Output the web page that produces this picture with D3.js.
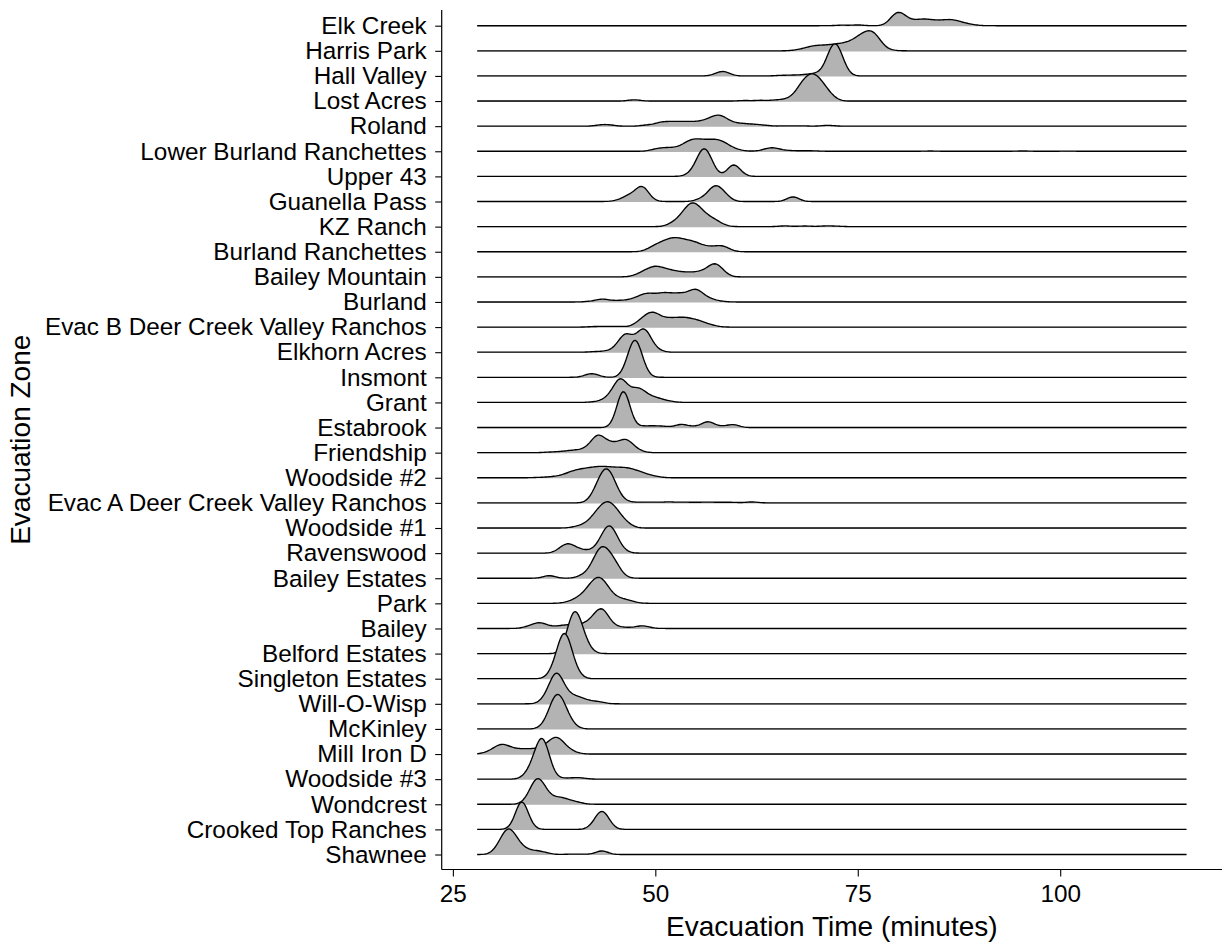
<!DOCTYPE html>
<html>
<head>
<meta charset="utf-8">
<script src="https://cdn.jsdelivr.net/npm/d3@7"></script>
<style>
    body { margin: 0; background: #fff; }
    text { font-family: "Liberation Sans", Arial, sans-serif; }
</style>
</head>
<body>
<div id="chart"></div>
<script>
// Zones, top to bottom
const zones = [
    'Elk Creek', 'Harris Park', 'Hall Valley', 'Lost Acres', 'Roland',
    'Lower Burland Ranchettes', 'Upper 43', 'Guanella Pass', 'KZ Ranch',
    'Burland Ranchettes', 'Bailey Mountain', 'Burland',
    'Evac B Deer Creek Valley Ranchos', 'Elkhorn Acres', 'Insmont', 'Grant',
    'Estabrook', 'Friendship', 'Woodside #2', 'Evac A Deer Creek Valley Ranchos',
    'Woodside #1', 'Ravenswood', 'Bailey Estates', 'Park', 'Bailey',
    'Belford Estates', 'Singleton Estates', 'Will-O-Wisp', 'McKinley',
    'Mill Iron D', 'Woodside #3', 'Wondcrest', 'Crooked Top Ranches', 'Shawnee'
];

// Evacuation times (minutes) as [time, count] per zone
const elkCreek = [[73, 0.5], [75, 0.7], [79.4, 5], [80.1, 7.5], [80.9, 4], [81.8, 2], [82.6, 3], [83.4, 3], [84.2, 2.5], [85, 2.2], [85.8, 2.5], [86.6, 3], [87.4, 2.2], [88.3, 1.2], [89.2, 0.6]];
const harrisPark = [[67.8, 1], [69, 2.5], [70, 3], [71, 3], [72, 3.5], [73, 4], [74, 5], [75, 7], [75.8, 8], [76.6, 9.5], [77.3, 7], [78, 2], [79, 0.5]];
const hallValley = [[57.8, 2], [58.6, 3], [65.5, 0.5], [67, 0.7], [68.5, 1], [69.8, 2], [71.4, 10], [72.2, 21], [73, 9]];
const lostAcres = [[47.4, 1.2], [61, 0.5], [63, 0.7], [65, 1], [66.5, 2], [67.8, 8], [68.6, 10.5], [69.4, 13.5], [70.2, 10.5], [71, 6.5], [71.8, 2.5]];
const roland = [[43.3, 1], [44.3, 1], [49, 1], [50.5, 2.5], [51.5, 2.5], [52.5, 2.5], [53.5, 2.5], [54.5, 2.5], [55.5, 2.5], [56.5, 4], [57.5, 6], [58.3, 5], [59.2, 2.5], [60.2, 1.5], [61.2, 1.5], [62.4, 1.2], [63.5, 0.6], [66, 0.3], [68, 0.3], [71.3, 0.8]];
const lowerBurland = [[49.8, 1], [50.6, 1.6], [51.4, 1.6], [52.2, 1.6], [53, 1.8], [53.8, 4], [54.6, 6], [55.4, 5], [56.2, 5], [57, 5], [57.8, 5.5], [58.6, 4], [59.5, 2], [60.5, 0.6], [63.5, 1], [64.4, 2.5], [65.3, 1], [66.5, 0.5], [68, 0.4], [69.5, 0.4], [84, 0.25], [95.4, 0.3], [101, 0.2]];
const upper43 = [[54.3, 1.5], [55.3, 9], [56.1, 18], [56.9, 7], [59.6, 10], [60.4, 2]];
const guanellaPass = [[45.5, 1], [46.6, 4], [47.6, 4], [48.4, 11], [49.1, 2], [55.6, 2], [56.8, 6], [57.6, 10], [58.6, 5], [67, 4.5]];
const kzRanch = [[52, 2], [53, 5], [53.9, 9.5], [54.7, 13], [55.6, 9], [56.5, 5], [57.4, 4], [58.3, 1], [66, 0.7], [68.5, 0.6], [71, 0.6], [72.3, 0.4]];
const burlandRanchettes = [[49.3, 2], [50.2, 4], [51.1, 5.5], [52, 7], [52.9, 7], [53.8, 5.5], [54.7, 5.5], [55.6, 3.5], [56.5, 2.5], [57.4, 2.5], [58.3, 3.8], [59.1, 1]];
const baileyMountain = [[47.8, 1.5], [48.8, 4], [49.8, 6], [50.7, 5], [51.7, 4], [52.7, 3], [53.7, 2.5], [54.7, 2.5], [55.7, 3], [56.7, 5], [57.5, 8], [58.3, 3]];
const burland = [[42, 0.5], [43.4, 2.5], [44.8, 1], [46, 1], [47.2, 2], [48.2, 3], [49, 5], [50, 4], [51, 5.5], [52, 4.5], [53, 5], [54, 4.5], [55, 9], [56, 3.5], [57, 1.5], [58, 0.5]];
const evacB = [[42.5, 0.5], [44, 0.6], [45.5, 0.6], [47.9, 3], [48.8, 6], [49.7, 9], [50.6, 5], [51.6, 5], [52.6, 5], [53.6, 5.5], [54.6, 4.5], [55.6, 3.5], [56.6, 1.5], [57.4, 0.5]];
const elkhornAcres = [[42.5, 0.5], [44, 1], [45.4, 4], [46.3, 13], [47.2, 5], [48, 7], [48.7, 15], [49.5, 4], [50.4, 1]];
const insmont = [[41.8, 2], [42.5, 2], [46.7, 9], [47.5, 27], [48.3, 8]];
const grant = [[42.5, 0.5], [43.8, 2], [44.8, 6], [45.7, 17.5], [46.6, 5], [47.4, 6], [48.2, 8], [49.1, 3], [50, 3], [51, 1.5], [52, 0.5]];
const estabrook = [[45.6, 8], [46.1, 25], [46.6, 5], [48.5, 1.2], [49.8, 1.2], [51, 1], [53.2, 3], [54.8, 1], [56.5, 5.5], [58, 1], [59.6, 2.8]];
const friendship = [[37, 0.5], [38.5, 1], [39.8, 1.7], [40.9, 1.5], [41.8, 3], [42.8, 12.5], [43.7, 6], [44.6, 5], [45.5, 4.5], [46.4, 9], [47.3, 3], [48.2, 0.8]];
const woodside2 = [[35.5, 0.3], [37, 0.7], [38.3, 1.5], [39.4, 3], [40.3, 4], [41.2, 4.5], [42.1, 5], [43, 5.5], [43.9, 5.5], [44.8, 5], [45.7, 5], [46.6, 5], [47.5, 4], [48.4, 2.5], [49.3, 1.5], [50.3, 0.6]];
const evacA = [[42.4, 4.3], [43.2, 13], [44, 19], [44.8, 11.5], [45.6, 3], [47, 0.6], [48.5, 0.6], [50, 0.6], [51.7, 0.9], [53.5, 0.6], [55, 0.5], [56.5, 0.6], [58, 0.5], [59.5, 0.5], [61.9, 0.9]];
const woodside1 = [[40.2, 1], [41.3, 2.5], [42.4, 7], [43.3, 11], [44.1, 12.5], [44.9, 11], [45.8, 6], [46.7, 2]];
const ravenswood = [[38.4, 3], [39.2, 6], [40.1, 3], [41, 1.5], [41.9, 1.2], [42.9, 3], [43.6, 8], [44.3, 16], [45.1, 9], [46, 1.5]];
const baileyEstates = [[36.9, 2.5], [41, 2], [41.9, 3], [42.7, 12], [43.5, 17], [44.3, 11], [45.1, 9], [46, 1]];
const park = [[39.2, 1], [40.3, 3], [41.3, 6], [42.2, 10.5], [43, 13], [43.8, 10.5], [44.7, 4], [45.6, 2.5], [46.5, 2], [47.4, 0.7]];
const bailey = [[34.3, 1.5], [35.5, 4], [36.3, 2], [37.3, 1], [38.5, 2], [39.5, 2], [40.5, 2], [41.5, 3], [42.5, 7], [43.4, 13.5], [44.2, 4], [45.3, 1], [46.5, 0.8], [48.3, 2.3], [49.2, 0.5]];
const belfordEstates = [[39.4, 13], [40.1, 26], [40.9, 12], [41.7, 3]];
const singletonEstates = [[37.4, 4.5], [38.1, 13], [38.8, 27], [39.5, 12.5], [40.3, 3]];
const willOWisp = [[36.4, 3], [37.2, 10], [37.9, 19], [38.7, 7], [39.6, 4], [40.5, 4], [41.4, 2], [42.4, 1.5], [43.3, 1]];
const mcKinley = [[36.5, 3], [37.3, 13], [38, 18.5], [38.8, 11.5], [39.7, 3]];
const millIronD = [[28.8, 0.5], [29.8, 2], [30.6, 4], [31.3, 5], [32.2, 3], [33.1, 2.5], [34, 2.5], [34.9, 2.5], [35.8, 3], [36.7, 5], [37.6, 10], [38.4, 6.5], [39.3, 2.5], [40.2, 0.8]];
const woodside3 = [[34.3, 4], [35.2, 12], [36, 26], [36.7, 11], [38.5, 0.8], [40, 1], [40.9, 0.8]];
const wondcrest = [[34.3, 3], [35.1, 12.7], [35.8, 12.7], [36.6, 5], [37.5, 3], [38.4, 4], [39.3, 2], [40.2, 1.5], [41, 0.3]];
const crookedTop = [[32.8, 2], [33.5, 24], [34.3, 3], [42.6, 4], [43.4, 13], [44.1, 4]];
const shawnee = [[30.6, 4], [31.4, 11], [32.1, 13], [32.9, 7], [33.8, 3], [34.7, 2], [35.6, 2], [36.5, 1], [39.5, 0.3], [41, 0.3], [43.4, 3.5]];

const series = [
    elkCreek, harrisPark, hallValley, lostAcres, roland, lowerBurland, upper43,
    guanellaPass, kzRanch, burlandRanchettes, baileyMountain, burland, evacB,
    elkhornAcres, insmont, grant, estabrook, friendship, woodside2, evacA,
    woodside1, ravenswood, baileyEstates, park, bailey, belfordEstates,
    singletonEstates, willOWisp, mcKinley, millIronD, woodside3, wondcrest,
    crookedTop, shawnee
];

const timeRange = [28, 115.6];   // min / max evacuation time in the data
const xTicks = [25, 50, 75, 100];
const bandwidth = 0.75;
const ridgeScale = 1.8;

const width = 1225, height = 945;
const panel = { left: 441.7, right: 1222, top: 10, bottom: 869.5 };

const svg = d3.select('#chart')
    .append('svg')
    .attr('width', width)
    .attr('height', height);

// x scale with ggplot style 5% expansion
const pad = (timeRange[1] - timeRange[0]) * 0.05;
const x = d3.scaleLinear()
    .domain([timeRange[0] - pad, timeRange[1] + pad])
    .range([panel.left, panel.right]);

const y = d3.scalePoint()
    .domain(zones)
    .range([25.7, 854.5]);

// Gaussian kernel density on a 512 point grid
const grid = d3.range(512).map(i => timeRange[0] + i * (timeRange[1] - timeRange[0]) / 511);
function density(obs) {
    const k = 1 / (bandwidth * Math.sqrt(2 * Math.PI));
    return grid.map(t => [t, k * d3.sum(obs, ([v, n]) => n * Math.exp(-((t - v) ** 2) / (2 * bandwidth * bandwidth)))]);
}
const densities = series.map(density);
const maxDensity = d3.max(densities, d => d3.max(d, p => p[1]));

const h = d3.scaleLinear()
    .domain([0, maxDensity])
    .range([0, ridgeScale * y.step()]);

// Draw ridges, top to bottom so lower rows overlap
const ridges = svg.append('g');
zones.forEach((zone, i) => {
    const base = y(zone);
    const g = ridges.append('g');
    g.append('path')
        .datum(densities[i])
        .attr('d', d3.area()
            .x(d => x(d[0]))
            .y0(base + 0.6)
            .y1(d => base - h(d[1])))
        .style('fill', '#b3b3b3')
        .style('stroke', 'none');
    g.append('path')
        .datum(densities[i])
        .attr('d', d3.line()
            .x(d => x(d[0]))
            .y(d => base - h(d[1])))
        .style('fill', 'none')
        .style('stroke', '#000')
        .style('stroke-width', 1.35);
});

// Axes
const yAxis = svg.append('g')
    .attr('transform', `translate(${panel.left},0)`)
    .call(d3.axisLeft(y).tickSize(6.5).tickPadding(8.5).tickSizeOuter(0));
yAxis.select('.domain').remove();

const xAxis = svg.append('g')
    .attr('transform', `translate(0,${panel.bottom})`)
    .call(d3.axisBottom(x).tickValues(xTicks).tickSize(7).tickPadding(8).tickSizeOuter(0));
xAxis.select('.domain').remove();

[yAxis, xAxis].forEach(ax => {
    ax.selectAll('text')
        .style('font-size', '24.3px')
        .style('fill', '#000')
        .style('font-family', '"Liberation Sans", Arial, sans-serif');
    ax.selectAll('line')
        .style('stroke', '#000')
        .style('stroke-width', 1.1);
});

svg.append('line')
    .attr('x1', panel.left).attr('x2', panel.left)
    .attr('y1', panel.top).attr('y2', panel.bottom)
    .style('stroke', '#000').style('stroke-width', 1.2);
svg.append('line')
    .attr('x1', panel.left).attr('x2', panel.right)
    .attr('y1', panel.bottom).attr('y2', panel.bottom)
    .style('stroke', '#000').style('stroke-width', 1.2);

// Axis titles
svg.append('text')
    .attr('x', (panel.left + panel.right) / 2)
    .attr('y', 936)
    .attr('text-anchor', 'middle')
    .style('font-size', '28px')
    .text('Evacuation Time (minutes)');

svg.append('text')
    .attr('transform', `translate(30,${(panel.top + panel.bottom) / 2}) rotate(-90)`)
    .attr('text-anchor', 'middle')
    .style('font-size', '28px')
    .text('Evacuation Zone');
</script>
</body>
</html>
